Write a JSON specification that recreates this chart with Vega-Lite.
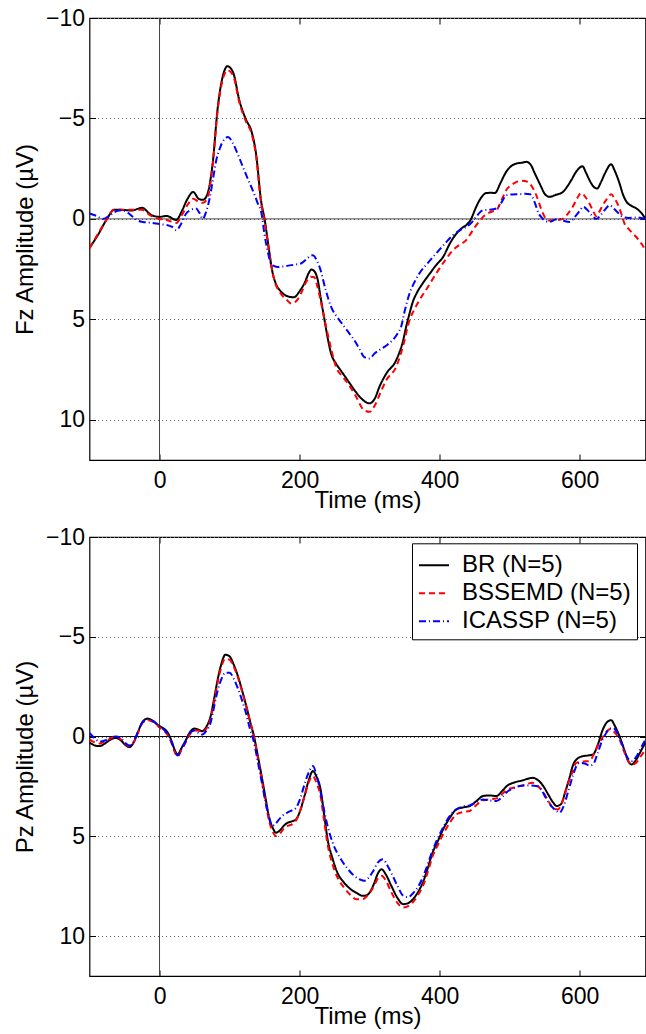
{
"$schema": "https://vega.github.io/schema/vega-lite/v6.json",
"padding": {"left": 12.5, "top": 6, "right": 0, "bottom": 0},
"background": "white",
"config": {
  "font": "Liberation Sans",
  "view": {"stroke": "black", "strokeWidth": 1.2}
},
"datasets": {
"fz": [
{"t":-100,"v":1.45,"s":"BR"},{"t":-88,"v":0.8,"s":"BR"},{"t":-75,"v":0.0,"s":"BR"},{"t":-65,"v":-0.45,"s":"BR"},{"t":-55,"v":-0.45,"s":"BR"},{"t":-40,"v":-0.42,"s":"BR"},{"t":-25,"v":-0.55,"s":"BR"},{"t":-12,"v":-0.2,"s":"BR"},{"t":0,"v":-0.1,"s":"BR"},{"t":10,"v":-0.15,"s":"BR"},{"t":24,"v":0.05,"s":"BR"},{"t":32,"v":-0.4,"s":"BR"},{"t":40,"v":-1.0,"s":"BR"},{"t":48,"v":-1.34,"s":"BR"},{"t":56,"v":-1.0,"s":"BR"},{"t":62,"v":-0.95,"s":"BR"},{"t":68,"v":-1.2,"s":"BR"},{"t":76,"v":-2.8,"s":"BR"},{"t":83,"v":-5.5,"s":"BR"},{"t":90,"v":-7.05,"s":"BR"},{"t":97,"v":-7.6,"s":"BR"},{"t":105,"v":-7.3,"s":"BR"},{"t":114,"v":-5.9,"s":"BR"},{"t":124,"v":-4.9,"s":"BR"},{"t":131,"v":-4.4,"s":"BR"},{"t":138,"v":-3.2,"s":"BR"},{"t":145,"v":-0.9,"s":"BR"},{"t":150,"v":0.0,"s":"BR"},{"t":155,"v":1.2,"s":"BR"},{"t":161,"v":2.6,"s":"BR"},{"t":167,"v":3.3,"s":"BR"},{"t":173,"v":3.6,"s":"BR"},{"t":183,"v":3.85,"s":"BR"},{"t":192,"v":3.9,"s":"BR"},{"t":200,"v":3.6,"s":"BR"},{"t":207,"v":3.2,"s":"BR"},{"t":213,"v":2.7,"s":"BR"},{"t":217,"v":2.52,"s":"BR"},{"t":221,"v":2.6,"s":"BR"},{"t":226,"v":3.05,"s":"BR"},{"t":230,"v":3.9,"s":"BR"},{"t":235,"v":4.9,"s":"BR"},{"t":240,"v":5.9,"s":"BR"},{"t":245,"v":6.7,"s":"BR"},{"t":252,"v":7.2,"s":"BR"},{"t":259,"v":7.55,"s":"BR"},{"t":270,"v":8.1,"s":"BR"},{"t":280,"v":8.6,"s":"BR"},{"t":290,"v":9.0,"s":"BR"},{"t":300,"v":9.18,"s":"BR"},{"t":308,"v":8.9,"s":"BR"},{"t":314,"v":8.36,"s":"BR"},{"t":324,"v":7.69,"s":"BR"},{"t":338,"v":7.03,"s":"BR"},{"t":348,"v":6.03,"s":"BR"},{"t":352,"v":5.4,"s":"BR"},{"t":357,"v":4.71,"s":"BR"},{"t":362,"v":4.1,"s":"BR"},{"t":367,"v":3.71,"s":"BR"},{"t":376,"v":3.2,"s":"BR"},{"t":386,"v":2.72,"s":"BR"},{"t":395,"v":2.3,"s":"BR"},{"t":405,"v":1.89,"s":"BR"},{"t":415,"v":1.2,"s":"BR"},{"t":424,"v":0.73,"s":"BR"},{"t":432,"v":0.45,"s":"BR"},{"t":438,"v":0.31,"s":"BR"},{"t":445,"v":0.0,"s":"BR"},{"t":451,"v":-0.5,"s":"BR"},{"t":457,"v":-0.93,"s":"BR"},{"t":467,"v":-1.29,"s":"BR"},{"t":474,"v":-1.3,"s":"BR"},{"t":479,"v":-1.29,"s":"BR"},{"t":487,"v":-1.8,"s":"BR"},{"t":495,"v":-2.34,"s":"BR"},{"t":503,"v":-2.65,"s":"BR"},{"t":510,"v":-2.76,"s":"BR"},{"t":518,"v":-2.8,"s":"BR"},{"t":524,"v":-2.84,"s":"BR"},{"t":530,"v":-2.7,"s":"BR"},{"t":536,"v":-2.26,"s":"BR"},{"t":545,"v":-1.6,"s":"BR"},{"t":550,"v":-1.25,"s":"BR"},{"t":557,"v":-1.1,"s":"BR"},{"t":566,"v":-1.2,"s":"BR"},{"t":576,"v":-1.34,"s":"BR"},{"t":582,"v":-1.6,"s":"BR"},{"t":588,"v":-1.93,"s":"BR"},{"t":596,"v":-2.4,"s":"BR"},{"t":604,"v":-2.62,"s":"BR"},{"t":609,"v":-2.3,"s":"BR"},{"t":614,"v":-1.93,"s":"BR"},{"t":620,"v":-1.6,"s":"BR"},{"t":625,"v":-1.51,"s":"BR"},{"t":630,"v":-1.8,"s":"BR"},{"t":636,"v":-2.26,"s":"BR"},{"t":645,"v":-2.72,"s":"BR"},{"t":650,"v":-2.4,"s":"BR"},{"t":657,"v":-1.76,"s":"BR"},{"t":662,"v":-1.2,"s":"BR"},{"t":667,"v":-0.85,"s":"BR"},{"t":674,"v":-0.65,"s":"BR"},{"t":681,"v":-0.52,"s":"BR"},{"t":688,"v":-0.3,"s":"BR"},{"t":694,"v":0.0,"s":"BR"},
{"t":-100,"v":1.45,"s":"BSSEMD"},{"t":-88,"v":0.75,"s":"BSSEMD"},{"t":-75,"v":0.0,"s":"BSSEMD"},{"t":-65,"v":-0.45,"s":"BSSEMD"},{"t":-55,"v":-0.45,"s":"BSSEMD"},{"t":-40,"v":-0.45,"s":"BSSEMD"},{"t":-25,"v":-0.45,"s":"BSSEMD"},{"t":-12,"v":-0.15,"s":"BSSEMD"},{"t":0,"v":0.0,"s":"BSSEMD"},{"t":10,"v":0.05,"s":"BSSEMD"},{"t":24,"v":0.2,"s":"BSSEMD"},{"t":32,"v":-0.2,"s":"BSSEMD"},{"t":40,"v":-0.7,"s":"BSSEMD"},{"t":48,"v":-1.0,"s":"BSSEMD"},{"t":56,"v":-0.85,"s":"BSSEMD"},{"t":62,"v":-0.8,"s":"BSSEMD"},{"t":68,"v":-1.0,"s":"BSSEMD"},{"t":76,"v":-2.7,"s":"BSSEMD"},{"t":83,"v":-5.4,"s":"BSSEMD"},{"t":90,"v":-6.9,"s":"BSSEMD"},{"t":97,"v":-7.4,"s":"BSSEMD"},{"t":105,"v":-7.15,"s":"BSSEMD"},{"t":114,"v":-5.8,"s":"BSSEMD"},{"t":124,"v":-4.8,"s":"BSSEMD"},{"t":131,"v":-4.3,"s":"BSSEMD"},{"t":138,"v":-3.1,"s":"BSSEMD"},{"t":145,"v":-0.8,"s":"BSSEMD"},{"t":150,"v":0.1,"s":"BSSEMD"},{"t":155,"v":1.3,"s":"BSSEMD"},{"t":164,"v":3.05,"s":"BSSEMD"},{"t":173,"v":3.71,"s":"BSSEMD"},{"t":181,"v":4.0,"s":"BSSEMD"},{"t":188,"v":4.21,"s":"BSSEMD"},{"t":195,"v":4.1,"s":"BSSEMD"},{"t":202,"v":3.71,"s":"BSSEMD"},{"t":210,"v":3.1,"s":"BSSEMD"},{"t":216,"v":2.88,"s":"BSSEMD"},{"t":221,"v":2.9,"s":"BSSEMD"},{"t":225,"v":3.3,"s":"BSSEMD"},{"t":230,"v":4.05,"s":"BSSEMD"},{"t":235,"v":4.9,"s":"BSSEMD"},{"t":240,"v":5.7,"s":"BSSEMD"},{"t":246,"v":6.6,"s":"BSSEMD"},{"t":252,"v":7.36,"s":"BSSEMD"},{"t":260,"v":7.8,"s":"BSSEMD"},{"t":269,"v":8.19,"s":"BSSEMD"},{"t":280,"v":8.8,"s":"BSSEMD"},{"t":292,"v":9.52,"s":"BSSEMD"},{"t":300,"v":9.6,"s":"BSSEMD"},{"t":308,"v":9.25,"s":"BSSEMD"},{"t":316,"v":8.6,"s":"BSSEMD"},{"t":324,"v":8.02,"s":"BSSEMD"},{"t":338,"v":7.36,"s":"BSSEMD"},{"t":348,"v":6.3,"s":"BSSEMD"},{"t":357,"v":5.04,"s":"BSSEMD"},{"t":364,"v":4.5,"s":"BSSEMD"},{"t":371,"v":4.05,"s":"BSSEMD"},{"t":383,"v":3.4,"s":"BSSEMD"},{"t":395,"v":2.72,"s":"BSSEMD"},{"t":407,"v":2.1,"s":"BSSEMD"},{"t":419,"v":1.56,"s":"BSSEMD"},{"t":430,"v":1.25,"s":"BSSEMD"},{"t":438,"v":1.06,"s":"BSSEMD"},{"t":444,"v":0.75,"s":"BSSEMD"},{"t":450,"v":0.43,"s":"BSSEMD"},{"t":456,"v":0.15,"s":"BSSEMD"},{"t":462,"v":-0.1,"s":"BSSEMD"},{"t":470,"v":-0.3,"s":"BSSEMD"},{"t":476,"v":-0.38,"s":"BSSEMD"},{"t":481,"v":-0.43,"s":"BSSEMD"},{"t":488,"v":-0.9,"s":"BSSEMD"},{"t":495,"v":-1.43,"s":"BSSEMD"},{"t":503,"v":-1.7,"s":"BSSEMD"},{"t":510,"v":-1.84,"s":"BSSEMD"},{"t":518,"v":-1.9,"s":"BSSEMD"},{"t":526,"v":-1.84,"s":"BSSEMD"},{"t":532,"v":-1.6,"s":"BSSEMD"},{"t":538,"v":-1.18,"s":"BSSEMD"},{"t":545,"v":-0.5,"s":"BSSEMD"},{"t":552,"v":0.0,"s":"BSSEMD"},{"t":557,"v":0.08,"s":"BSSEMD"},{"t":562,"v":0.07,"s":"BSSEMD"},{"t":570,"v":0.05,"s":"BSSEMD"},{"t":576,"v":0.0,"s":"BSSEMD"},{"t":583,"v":-0.25,"s":"BSSEMD"},{"t":590,"v":-0.6,"s":"BSSEMD"},{"t":596,"v":-1.0,"s":"BSSEMD"},{"t":602,"v":-1.29,"s":"BSSEMD"},{"t":608,"v":-1.1,"s":"BSSEMD"},{"t":614,"v":-0.77,"s":"BSSEMD"},{"t":619,"v":-0.4,"s":"BSSEMD"},{"t":624,"v":-0.13,"s":"BSSEMD"},{"t":628,"v":-0.35,"s":"BSSEMD"},{"t":633,"v":-0.68,"s":"BSSEMD"},{"t":639,"v":-1.0,"s":"BSSEMD"},{"t":645,"v":-1.23,"s":"BSSEMD"},{"t":650,"v":-1.0,"s":"BSSEMD"},{"t":655,"v":-0.68,"s":"BSSEMD"},{"t":660,"v":-0.2,"s":"BSSEMD"},{"t":664,"v":0.23,"s":"BSSEMD"},{"t":670,"v":0.5,"s":"BSSEMD"},{"t":676,"v":0.73,"s":"BSSEMD"},{"t":682,"v":0.95,"s":"BSSEMD"},{"t":688,"v":1.22,"s":"BSSEMD"},{"t":694,"v":1.56,"s":"BSSEMD"},
{"t":-100,"v":-0.27,"s":"ICASSP"},{"t":-90,"v":-0.15,"s":"ICASSP"},{"t":-81,"v":0.0,"s":"ICASSP"},{"t":-70,"v":-0.2,"s":"ICASSP"},{"t":-60,"v":-0.4,"s":"ICASSP"},{"t":-53,"v":-0.43,"s":"ICASSP"},{"t":-45,"v":-0.3,"s":"ICASSP"},{"t":-38,"v":-0.1,"s":"ICASSP"},{"t":-30,"v":0.1,"s":"ICASSP"},{"t":-24,"v":0.15,"s":"ICASSP"},{"t":-10,"v":0.2,"s":"ICASSP"},{"t":0,"v":0.26,"s":"ICASSP"},{"t":10,"v":0.3,"s":"ICASSP"},{"t":18,"v":0.4,"s":"ICASSP"},{"t":24,"v":0.56,"s":"ICASSP"},{"t":30,"v":0.3,"s":"ICASSP"},{"t":38,"v":-0.27,"s":"ICASSP"},{"t":45,"v":-0.45,"s":"ICASSP"},{"t":52,"v":-0.52,"s":"ICASSP"},{"t":57,"v":-0.3,"s":"ICASSP"},{"t":62,"v":0.0,"s":"ICASSP"},{"t":66,"v":-0.3,"s":"ICASSP"},{"t":71,"v":-0.93,"s":"ICASSP"},{"t":76,"v":-1.9,"s":"ICASSP"},{"t":81,"v":-2.92,"s":"ICASSP"},{"t":86,"v":-3.5,"s":"ICASSP"},{"t":90,"v":-3.83,"s":"ICASSP"},{"t":98,"v":-4.08,"s":"ICASSP"},{"t":105,"v":-3.75,"s":"ICASSP"},{"t":112,"v":-3.2,"s":"ICASSP"},{"t":119,"v":-2.59,"s":"ICASSP"},{"t":126,"v":-2.0,"s":"ICASSP"},{"t":133,"v":-1.43,"s":"ICASSP"},{"t":140,"v":-0.8,"s":"ICASSP"},{"t":146,"v":-0.2,"s":"ICASSP"},{"t":150,"v":0.8,"s":"ICASSP"},{"t":155,"v":1.7,"s":"ICASSP"},{"t":159,"v":2.22,"s":"ICASSP"},{"t":164,"v":2.35,"s":"ICASSP"},{"t":169,"v":2.39,"s":"ICASSP"},{"t":180,"v":2.35,"s":"ICASSP"},{"t":188,"v":2.3,"s":"ICASSP"},{"t":195,"v":2.27,"s":"ICASSP"},{"t":202,"v":2.22,"s":"ICASSP"},{"t":210,"v":2.0,"s":"ICASSP"},{"t":215,"v":1.85,"s":"ICASSP"},{"t":219,"v":1.81,"s":"ICASSP"},{"t":225,"v":2.1,"s":"ICASSP"},{"t":230,"v":2.55,"s":"ICASSP"},{"t":237,"v":3.5,"s":"ICASSP"},{"t":245,"v":4.38,"s":"ICASSP"},{"t":254,"v":4.9,"s":"ICASSP"},{"t":264,"v":5.37,"s":"ICASSP"},{"t":271,"v":5.7,"s":"ICASSP"},{"t":278,"v":6.03,"s":"ICASSP"},{"t":286,"v":6.5,"s":"ICASSP"},{"t":292,"v":6.87,"s":"ICASSP"},{"t":300,"v":6.95,"s":"ICASSP"},{"t":307,"v":6.7,"s":"ICASSP"},{"t":314,"v":6.53,"s":"ICASSP"},{"t":324,"v":6.3,"s":"ICASSP"},{"t":333,"v":6.03,"s":"ICASSP"},{"t":340,"v":5.7,"s":"ICASSP"},{"t":345,"v":5.37,"s":"ICASSP"},{"t":350,"v":4.6,"s":"ICASSP"},{"t":357,"v":3.71,"s":"ICASSP"},{"t":364,"v":3.15,"s":"ICASSP"},{"t":371,"v":2.72,"s":"ICASSP"},{"t":383,"v":2.2,"s":"ICASSP"},{"t":395,"v":1.72,"s":"ICASSP"},{"t":407,"v":1.25,"s":"ICASSP"},{"t":419,"v":0.81,"s":"ICASSP"},{"t":430,"v":0.55,"s":"ICASSP"},{"t":438,"v":0.4,"s":"ICASSP"},{"t":445,"v":0.2,"s":"ICASSP"},{"t":452,"v":-0.1,"s":"ICASSP"},{"t":462,"v":-0.43,"s":"ICASSP"},{"t":470,"v":-0.45,"s":"ICASSP"},{"t":481,"v":-0.52,"s":"ICASSP"},{"t":488,"v":-0.8,"s":"ICASSP"},{"t":495,"v":-1.18,"s":"ICASSP"},{"t":504,"v":-1.22,"s":"ICASSP"},{"t":514,"v":-1.23,"s":"ICASSP"},{"t":522,"v":-1.25,"s":"ICASSP"},{"t":529,"v":-1.23,"s":"ICASSP"},{"t":536,"v":-0.8,"s":"ICASSP"},{"t":541,"v":-0.3,"s":"ICASSP"},{"t":545,"v":-0.1,"s":"ICASSP"},{"t":551,"v":0.1,"s":"ICASSP"},{"t":557,"v":0.15,"s":"ICASSP"},{"t":564,"v":0.05,"s":"ICASSP"},{"t":571,"v":0.0,"s":"ICASSP"},{"t":578,"v":0.1,"s":"ICASSP"},{"t":586,"v":0.15,"s":"ICASSP"},{"t":593,"v":-0.1,"s":"ICASSP"},{"t":600,"v":-0.4,"s":"ICASSP"},{"t":605,"v":-0.6,"s":"ICASSP"},{"t":611,"v":-0.45,"s":"ICASSP"},{"t":618,"v":-0.15,"s":"ICASSP"},{"t":624,"v":0.0,"s":"ICASSP"},{"t":630,"v":-0.2,"s":"ICASSP"},{"t":636,"v":-0.45,"s":"ICASSP"},{"t":643,"v":-0.68,"s":"ICASSP"},{"t":649,"v":-0.5,"s":"ICASSP"},{"t":655,"v":-0.3,"s":"ICASSP"},{"t":662,"v":-0.1,"s":"ICASSP"},{"t":670,"v":-0.05,"s":"ICASSP"},{"t":681,"v":-0.07,"s":"ICASSP"},{"t":694,"v":0.0,"s":"ICASSP"}
],
"pz": [
{"t":-100,"v":0.3,"s":"BR"},{"t":-92,"v":0.45,"s":"BR"},{"t":-86,"v":0.48,"s":"BR"},{"t":-78,"v":0.35,"s":"BR"},{"t":-70,"v":0.15,"s":"BR"},{"t":-62,"v":0.07,"s":"BR"},{"t":-55,"v":0.2,"s":"BR"},{"t":-48,"v":0.45,"s":"BR"},{"t":-43,"v":0.53,"s":"BR"},{"t":-37,"v":0.3,"s":"BR"},{"t":-30,"v":-0.3,"s":"BR"},{"t":-24,"v":-0.75,"s":"BR"},{"t":-17,"v":-0.9,"s":"BR"},{"t":-10,"v":-0.8,"s":"BR"},{"t":-3,"v":-0.6,"s":"BR"},{"t":0,"v":-0.52,"s":"BR"},{"t":6,"v":-0.4,"s":"BR"},{"t":12,"v":-0.18,"s":"BR"},{"t":18,"v":0.3,"s":"BR"},{"t":22,"v":0.7,"s":"BR"},{"t":26,"v":0.9,"s":"BR"},{"t":31,"v":0.6,"s":"BR"},{"t":38,"v":0.15,"s":"BR"},{"t":44,"v":-0.25,"s":"BR"},{"t":50,"v":-0.4,"s":"BR"},{"t":55,"v":-0.35,"s":"BR"},{"t":61,"v":-0.27,"s":"BR"},{"t":67,"v":-0.5,"s":"BR"},{"t":73,"v":-1.02,"s":"BR"},{"t":78,"v":-1.9,"s":"BR"},{"t":83,"v":-2.85,"s":"BR"},{"t":88,"v":-3.6,"s":"BR"},{"t":94,"v":-4.1,"s":"BR"},{"t":100,"v":-4.02,"s":"BR"},{"t":106,"v":-3.6,"s":"BR"},{"t":112,"v":-3.02,"s":"BR"},{"t":118,"v":-2.3,"s":"BR"},{"t":124,"v":-1.52,"s":"BR"},{"t":129,"v":-0.8,"s":"BR"},{"t":135,"v":0.0,"s":"BR"},{"t":140,"v":0.9,"s":"BR"},{"t":145,"v":1.82,"s":"BR"},{"t":151,"v":3.0,"s":"BR"},{"t":157,"v":4.15,"s":"BR"},{"t":162,"v":4.6,"s":"BR"},{"t":166,"v":4.82,"s":"BR"},{"t":172,"v":4.7,"s":"BR"},{"t":178,"v":4.45,"s":"BR"},{"t":183,"v":4.32,"s":"BR"},{"t":189,"v":4.25,"s":"BR"},{"t":195,"v":4.15,"s":"BR"},{"t":201,"v":3.7,"s":"BR"},{"t":207,"v":2.98,"s":"BR"},{"t":213,"v":2.2,"s":"BR"},{"t":219,"v":1.73,"s":"BR"},{"t":224,"v":2.0,"s":"BR"},{"t":230,"v":2.65,"s":"BR"},{"t":235,"v":3.9,"s":"BR"},{"t":240,"v":5.15,"s":"BR"},{"t":247,"v":6.1,"s":"BR"},{"t":254,"v":6.82,"s":"BR"},{"t":263,"v":7.3,"s":"BR"},{"t":273,"v":7.65,"s":"BR"},{"t":282,"v":7.85,"s":"BR"},{"t":290,"v":7.98,"s":"BR"},{"t":296,"v":7.95,"s":"BR"},{"t":300,"v":7.82,"s":"BR"},{"t":306,"v":7.4,"s":"BR"},{"t":312,"v":6.85,"s":"BR"},{"t":317,"v":6.65,"s":"BR"},{"t":323,"v":6.9,"s":"BR"},{"t":331,"v":7.48,"s":"BR"},{"t":340,"v":8.1,"s":"BR"},{"t":348,"v":8.4,"s":"BR"},{"t":355,"v":8.35,"s":"BR"},{"t":362,"v":8.15,"s":"BR"},{"t":369,"v":7.8,"s":"BR"},{"t":376,"v":7.32,"s":"BR"},{"t":383,"v":6.6,"s":"BR"},{"t":390,"v":5.82,"s":"BR"},{"t":398,"v":5.2,"s":"BR"},{"t":405,"v":4.65,"s":"BR"},{"t":414,"v":4.1,"s":"BR"},{"t":424,"v":3.65,"s":"BR"},{"t":434,"v":3.55,"s":"BR"},{"t":443,"v":3.48,"s":"BR"},{"t":452,"v":3.25,"s":"BR"},{"t":462,"v":2.98,"s":"BR"},{"t":471,"v":2.95,"s":"BR"},{"t":481,"v":2.98,"s":"BR"},{"t":490,"v":2.7,"s":"BR"},{"t":497,"v":2.45,"s":"BR"},{"t":505,"v":2.32,"s":"BR"},{"t":518,"v":2.2,"s":"BR"},{"t":533,"v":2.07,"s":"BR"},{"t":541,"v":2.2,"s":"BR"},{"t":548,"v":2.48,"s":"BR"},{"t":555,"v":2.9,"s":"BR"},{"t":562,"v":3.3,"s":"BR"},{"t":567,"v":3.48,"s":"BR"},{"t":573,"v":3.4,"s":"BR"},{"t":580,"v":2.7,"s":"BR"},{"t":586,"v":2.0,"s":"BR"},{"t":590,"v":1.48,"s":"BR"},{"t":597,"v":1.1,"s":"BR"},{"t":605,"v":0.98,"s":"BR"},{"t":612,"v":0.95,"s":"BR"},{"t":619,"v":0.9,"s":"BR"},{"t":626,"v":0.4,"s":"BR"},{"t":633,"v":-0.35,"s":"BR"},{"t":640,"v":-0.75,"s":"BR"},{"t":645,"v":-0.82,"s":"BR"},{"t":650,"v":-0.55,"s":"BR"},{"t":657,"v":0.0,"s":"BR"},{"t":664,"v":0.7,"s":"BR"},{"t":669,"v":1.2,"s":"BR"},{"t":674,"v":1.4,"s":"BR"},{"t":680,"v":1.2,"s":"BR"},{"t":686,"v":0.82,"s":"BR"},{"t":690,"v":0.55,"s":"BR"},{"t":694,"v":0.32,"s":"BR"},
{"t":-100,"v":0.15,"s":"BSSEMD"},{"t":-92,"v":0.3,"s":"BSSEMD"},{"t":-86,"v":0.35,"s":"BSSEMD"},{"t":-78,"v":0.25,"s":"BSSEMD"},{"t":-70,"v":0.1,"s":"BSSEMD"},{"t":-62,"v":0.0,"s":"BSSEMD"},{"t":-55,"v":0.15,"s":"BSSEMD"},{"t":-48,"v":0.4,"s":"BSSEMD"},{"t":-43,"v":0.5,"s":"BSSEMD"},{"t":-37,"v":0.3,"s":"BSSEMD"},{"t":-30,"v":-0.25,"s":"BSSEMD"},{"t":-24,"v":-0.7,"s":"BSSEMD"},{"t":-17,"v":-0.82,"s":"BSSEMD"},{"t":-10,"v":-0.75,"s":"BSSEMD"},{"t":-3,"v":-0.55,"s":"BSSEMD"},{"t":0,"v":-0.45,"s":"BSSEMD"},{"t":6,"v":-0.3,"s":"BSSEMD"},{"t":12,"v":-0.05,"s":"BSSEMD"},{"t":18,"v":0.4,"s":"BSSEMD"},{"t":22,"v":0.8,"s":"BSSEMD"},{"t":26,"v":1.0,"s":"BSSEMD"},{"t":31,"v":0.7,"s":"BSSEMD"},{"t":38,"v":0.25,"s":"BSSEMD"},{"t":44,"v":-0.15,"s":"BSSEMD"},{"t":50,"v":-0.3,"s":"BSSEMD"},{"t":55,"v":-0.3,"s":"BSSEMD"},{"t":61,"v":-0.2,"s":"BSSEMD"},{"t":67,"v":-0.4,"s":"BSSEMD"},{"t":73,"v":-0.9,"s":"BSSEMD"},{"t":78,"v":-1.75,"s":"BSSEMD"},{"t":83,"v":-2.7,"s":"BSSEMD"},{"t":88,"v":-3.45,"s":"BSSEMD"},{"t":94,"v":-3.9,"s":"BSSEMD"},{"t":100,"v":-3.85,"s":"BSSEMD"},{"t":106,"v":-3.5,"s":"BSSEMD"},{"t":112,"v":-2.95,"s":"BSSEMD"},{"t":118,"v":-2.25,"s":"BSSEMD"},{"t":124,"v":-1.5,"s":"BSSEMD"},{"t":129,"v":-0.8,"s":"BSSEMD"},{"t":135,"v":0.05,"s":"BSSEMD"},{"t":140,"v":1.0,"s":"BSSEMD"},{"t":145,"v":1.95,"s":"BSSEMD"},{"t":151,"v":3.2,"s":"BSSEMD"},{"t":157,"v":4.3,"s":"BSSEMD"},{"t":162,"v":4.8,"s":"BSSEMD"},{"t":166,"v":4.98,"s":"BSSEMD"},{"t":172,"v":4.85,"s":"BSSEMD"},{"t":178,"v":4.6,"s":"BSSEMD"},{"t":183,"v":4.48,"s":"BSSEMD"},{"t":189,"v":4.4,"s":"BSSEMD"},{"t":195,"v":4.2,"s":"BSSEMD"},{"t":201,"v":3.7,"s":"BSSEMD"},{"t":207,"v":3.0,"s":"BSSEMD"},{"t":213,"v":2.3,"s":"BSSEMD"},{"t":219,"v":1.98,"s":"BSSEMD"},{"t":224,"v":2.3,"s":"BSSEMD"},{"t":230,"v":3.0,"s":"BSSEMD"},{"t":235,"v":4.2,"s":"BSSEMD"},{"t":240,"v":5.4,"s":"BSSEMD"},{"t":247,"v":6.4,"s":"BSSEMD"},{"t":254,"v":7.05,"s":"BSSEMD"},{"t":263,"v":7.55,"s":"BSSEMD"},{"t":273,"v":7.95,"s":"BSSEMD"},{"t":281,"v":8.15,"s":"BSSEMD"},{"t":290,"v":8.15,"s":"BSSEMD"},{"t":296,"v":8.0,"s":"BSSEMD"},{"t":300,"v":7.85,"s":"BSSEMD"},{"t":306,"v":7.5,"s":"BSSEMD"},{"t":312,"v":7.1,"s":"BSSEMD"},{"t":317,"v":6.98,"s":"BSSEMD"},{"t":323,"v":7.2,"s":"BSSEMD"},{"t":331,"v":7.8,"s":"BSSEMD"},{"t":340,"v":8.35,"s":"BSSEMD"},{"t":348,"v":8.57,"s":"BSSEMD"},{"t":355,"v":8.5,"s":"BSSEMD"},{"t":362,"v":8.3,"s":"BSSEMD"},{"t":369,"v":7.95,"s":"BSSEMD"},{"t":376,"v":7.5,"s":"BSSEMD"},{"t":383,"v":6.8,"s":"BSSEMD"},{"t":390,"v":6.0,"s":"BSSEMD"},{"t":398,"v":5.4,"s":"BSSEMD"},{"t":405,"v":4.9,"s":"BSSEMD"},{"t":414,"v":4.35,"s":"BSSEMD"},{"t":424,"v":3.9,"s":"BSSEMD"},{"t":434,"v":3.78,"s":"BSSEMD"},{"t":443,"v":3.73,"s":"BSSEMD"},{"t":452,"v":3.45,"s":"BSSEMD"},{"t":462,"v":3.2,"s":"BSSEMD"},{"t":471,"v":3.15,"s":"BSSEMD"},{"t":481,"v":3.1,"s":"BSSEMD"},{"t":490,"v":2.85,"s":"BSSEMD"},{"t":497,"v":2.65,"s":"BSSEMD"},{"t":505,"v":2.57,"s":"BSSEMD"},{"t":518,"v":2.45,"s":"BSSEMD"},{"t":533,"v":2.32,"s":"BSSEMD"},{"t":541,"v":2.5,"s":"BSSEMD"},{"t":548,"v":2.8,"s":"BSSEMD"},{"t":555,"v":3.2,"s":"BSSEMD"},{"t":562,"v":3.6,"s":"BSSEMD"},{"t":569,"v":3.65,"s":"BSSEMD"},{"t":576,"v":3.2,"s":"BSSEMD"},{"t":583,"v":2.4,"s":"BSSEMD"},{"t":590,"v":1.75,"s":"BSSEMD"},{"t":595,"v":1.32,"s":"BSSEMD"},{"t":605,"v":1.25,"s":"BSSEMD"},{"t":614,"v":1.23,"s":"BSSEMD"},{"t":620,"v":0.9,"s":"BSSEMD"},{"t":626,"v":0.45,"s":"BSSEMD"},{"t":631,"v":0.15,"s":"BSSEMD"},{"t":637,"v":-0.2,"s":"BSSEMD"},{"t":644,"v":-0.38,"s":"BSSEMD"},{"t":650,"v":-0.2,"s":"BSSEMD"},{"t":657,"v":0.15,"s":"BSSEMD"},{"t":664,"v":0.8,"s":"BSSEMD"},{"t":669,"v":1.2,"s":"BSSEMD"},{"t":675,"v":1.4,"s":"BSSEMD"},{"t":681,"v":1.3,"s":"BSSEMD"},{"t":687,"v":1.0,"s":"BSSEMD"},{"t":694,"v":0.65,"s":"BSSEMD"},
{"t":-100,"v":-0.18,"s":"ICASSP"},{"t":-92,"v":0.1,"s":"ICASSP"},{"t":-86,"v":0.25,"s":"ICASSP"},{"t":-78,"v":0.2,"s":"ICASSP"},{"t":-70,"v":0.05,"s":"ICASSP"},{"t":-62,"v":0.0,"s":"ICASSP"},{"t":-55,"v":0.1,"s":"ICASSP"},{"t":-48,"v":0.35,"s":"ICASSP"},{"t":-43,"v":0.45,"s":"ICASSP"},{"t":-37,"v":0.25,"s":"ICASSP"},{"t":-30,"v":-0.3,"s":"ICASSP"},{"t":-24,"v":-0.72,"s":"ICASSP"},{"t":-17,"v":-0.85,"s":"ICASSP"},{"t":-10,"v":-0.78,"s":"ICASSP"},{"t":-3,"v":-0.6,"s":"ICASSP"},{"t":0,"v":-0.5,"s":"ICASSP"},{"t":6,"v":-0.35,"s":"ICASSP"},{"t":12,"v":-0.1,"s":"ICASSP"},{"t":18,"v":0.35,"s":"ICASSP"},{"t":22,"v":0.75,"s":"ICASSP"},{"t":26,"v":0.95,"s":"ICASSP"},{"t":31,"v":0.65,"s":"ICASSP"},{"t":38,"v":0.2,"s":"ICASSP"},{"t":44,"v":-0.2,"s":"ICASSP"},{"t":50,"v":-0.3,"s":"ICASSP"},{"t":55,"v":-0.2,"s":"ICASSP"},{"t":61,"v":-0.1,"s":"ICASSP"},{"t":67,"v":-0.3,"s":"ICASSP"},{"t":73,"v":-0.7,"s":"ICASSP"},{"t":78,"v":-1.5,"s":"ICASSP"},{"t":83,"v":-2.3,"s":"ICASSP"},{"t":88,"v":-2.85,"s":"ICASSP"},{"t":94,"v":-3.2,"s":"ICASSP"},{"t":100,"v":-3.2,"s":"ICASSP"},{"t":106,"v":-2.9,"s":"ICASSP"},{"t":112,"v":-2.4,"s":"ICASSP"},{"t":118,"v":-1.8,"s":"ICASSP"},{"t":124,"v":-1.1,"s":"ICASSP"},{"t":129,"v":-0.4,"s":"ICASSP"},{"t":135,"v":0.3,"s":"ICASSP"},{"t":140,"v":1.2,"s":"ICASSP"},{"t":145,"v":2.1,"s":"ICASSP"},{"t":151,"v":3.2,"s":"ICASSP"},{"t":157,"v":4.1,"s":"ICASSP"},{"t":161,"v":4.48,"s":"ICASSP"},{"t":166,"v":4.35,"s":"ICASSP"},{"t":172,"v":4.1,"s":"ICASSP"},{"t":178,"v":3.9,"s":"ICASSP"},{"t":183,"v":3.8,"s":"ICASSP"},{"t":189,"v":3.7,"s":"ICASSP"},{"t":195,"v":3.57,"s":"ICASSP"},{"t":201,"v":3.1,"s":"ICASSP"},{"t":207,"v":2.4,"s":"ICASSP"},{"t":213,"v":1.8,"s":"ICASSP"},{"t":219,"v":1.48,"s":"ICASSP"},{"t":224,"v":1.9,"s":"ICASSP"},{"t":230,"v":2.8,"s":"ICASSP"},{"t":235,"v":3.7,"s":"ICASSP"},{"t":240,"v":4.48,"s":"ICASSP"},{"t":247,"v":5.3,"s":"ICASSP"},{"t":254,"v":5.85,"s":"ICASSP"},{"t":259,"v":6.15,"s":"ICASSP"},{"t":268,"v":6.6,"s":"ICASSP"},{"t":278,"v":6.98,"s":"ICASSP"},{"t":285,"v":7.15,"s":"ICASSP"},{"t":292,"v":7.23,"s":"ICASSP"},{"t":298,"v":7.1,"s":"ICASSP"},{"t":305,"v":6.75,"s":"ICASSP"},{"t":312,"v":6.3,"s":"ICASSP"},{"t":319,"v":6.15,"s":"ICASSP"},{"t":326,"v":6.5,"s":"ICASSP"},{"t":333,"v":6.98,"s":"ICASSP"},{"t":340,"v":7.5,"s":"ICASSP"},{"t":348,"v":7.98,"s":"ICASSP"},{"t":355,"v":8.05,"s":"ICASSP"},{"t":362,"v":7.85,"s":"ICASSP"},{"t":369,"v":7.55,"s":"ICASSP"},{"t":376,"v":7.05,"s":"ICASSP"},{"t":383,"v":6.4,"s":"ICASSP"},{"t":390,"v":5.7,"s":"ICASSP"},{"t":398,"v":5.05,"s":"ICASSP"},{"t":405,"v":4.55,"s":"ICASSP"},{"t":414,"v":4.0,"s":"ICASSP"},{"t":424,"v":3.65,"s":"ICASSP"},{"t":434,"v":3.5,"s":"ICASSP"},{"t":443,"v":3.45,"s":"ICASSP"},{"t":452,"v":3.3,"s":"ICASSP"},{"t":462,"v":3.15,"s":"ICASSP"},{"t":471,"v":3.2,"s":"ICASSP"},{"t":481,"v":3.23,"s":"ICASSP"},{"t":490,"v":3.0,"s":"ICASSP"},{"t":497,"v":2.75,"s":"ICASSP"},{"t":505,"v":2.6,"s":"ICASSP"},{"t":514,"v":2.48,"s":"ICASSP"},{"t":526,"v":2.45,"s":"ICASSP"},{"t":538,"v":2.48,"s":"ICASSP"},{"t":545,"v":2.65,"s":"ICASSP"},{"t":552,"v":3.1,"s":"ICASSP"},{"t":560,"v":3.5,"s":"ICASSP"},{"t":567,"v":3.73,"s":"ICASSP"},{"t":571,"v":3.82,"s":"ICASSP"},{"t":577,"v":3.5,"s":"ICASSP"},{"t":584,"v":2.7,"s":"ICASSP"},{"t":590,"v":2.0,"s":"ICASSP"},{"t":595,"v":1.5,"s":"ICASSP"},{"t":600,"v":1.32,"s":"ICASSP"},{"t":607,"v":1.35,"s":"ICASSP"},{"t":614,"v":1.45,"s":"ICASSP"},{"t":619,"v":1.4,"s":"ICASSP"},{"t":626,"v":0.8,"s":"ICASSP"},{"t":632,"v":0.2,"s":"ICASSP"},{"t":638,"v":-0.18,"s":"ICASSP"},{"t":643,"v":-0.4,"s":"ICASSP"},{"t":648,"v":-0.43,"s":"ICASSP"},{"t":654,"v":-0.15,"s":"ICASSP"},{"t":660,"v":0.32,"s":"ICASSP"},{"t":666,"v":0.9,"s":"ICASSP"},{"t":670,"v":1.15,"s":"ICASSP"},{"t":675,"v":1.23,"s":"ICASSP"},{"t":681,"v":1.0,"s":"ICASSP"},{"t":687,"v":0.6,"s":"ICASSP"},{"t":694,"v":0.15,"s":"ICASSP"}
],
"zero": [{"z": 0}]
},
"spacing": 12,
"resolve": {"legend": {"color": "independent", "strokeDash": "independent"}},
"vconcat": [
{
  "width": 556, "height": 442,
  "resolve": {"axis": {"x": "independent", "y": "independent"}},
  "layer": [
    {"data": {"name": "zero"}, "mark": {"type": "rule", "color": "#444", "strokeWidth": 1},
     "encoding": {"y": {"field": "z", "type": "quantitative", "scale": {"domain": [-10, 12], "nice": false, "reverse": true},
       "axis": {"orient": "right", "values": [-10, -5, 0, 5, 10], "labels": false, "title": null, "grid": false, "domain": false, "tickSize": -6, "tickColor": "black"}}}},
    {"data": {"name": "zero"}, "mark": {"type": "rule", "color": "#444", "strokeWidth": 1},
     "encoding": {"x": {"field": "z", "type": "quantitative", "scale": {"domain": [-100, 694], "nice": false},
       "axis": {"orient": "top", "values": [0, 200, 400, 600], "labels": false, "title": null, "grid": false, "domain": false, "tickSize": -6, "tickColor": "black"}}}},
    {"data": {"name": "fz"}, "mark": {"type": "line", "interpolate": "monotone", "strokeWidth": 2, "clip": true},
     "encoding": {
       "x": {"field": "t", "type": "quantitative", "scale": {"domain": [-100, 694], "nice": false},
         "axis": {"title": "Time (ms)", "values": [0, 200, 400, 600], "grid": false, "domain": false, "tickSize": -6, "tickColor": "black", "labelPadding": 15, "labelFontSize": 23, "labelFont": "Liberation Sans", "labelColor": "black", "titleFontSize": 24, "titleFont": "Liberation Sans", "titleFontWeight": "normal", "titleColor": "black", "titlePadding": -4}},
       "y": {"field": "v", "type": "quantitative", "scale": {"domain": [-10, 12], "nice": false, "reverse": true},
         "axis": {"title": "Fz Amplitude (µV)", "values": [-10, -5, 0, 5, 10], "grid": true, "gridDash": [1, 3], "gridColor": "#666", "domain": false, "tickSize": -6, "tickColor": "black", "labelPadding": 11, "labelFontSize": 23, "labelFont": "Liberation Sans", "labelColor": "black", "labelExpr": "replace(datum.label, '-', '−')", "titleFontSize": 24, "titleFont": "Liberation Sans", "titleFontWeight": "normal", "titleColor": "black", "titlePadding": 8}},
       "color": {"field": "s", "type": "nominal", "scale": {"domain": ["BR", "BSSEMD", "ICASSP"], "range": ["#000000", "#ff0000", "#0000ff"]}, "legend": null},
       "strokeDash": {"field": "s", "type": "nominal", "scale": {"domain": ["BR", "BSSEMD", "ICASSP"], "range": [[1, 0], [6, 4], [7, 3, 1, 3]]}, "legend": null}
     }}
  ]
},
{
  "width": 556, "height": 439,
  "resolve": {"axis": {"x": "independent", "y": "independent"}},
  "layer": [
    {"data": {"name": "zero"}, "mark": {"type": "rule", "color": "#000", "strokeWidth": 1},
     "encoding": {"y": {"field": "z", "type": "quantitative", "scale": {"domain": [-10, 12], "nice": false, "reverse": true},
       "axis": {"orient": "right", "values": [-10, -5, 0, 5, 10], "labels": false, "title": null, "grid": false, "domain": false, "tickSize": -6, "tickColor": "black"}}}},
    {"data": {"name": "zero"}, "mark": {"type": "rule", "color": "#444", "strokeWidth": 1},
     "encoding": {"x": {"field": "z", "type": "quantitative", "scale": {"domain": [-100, 694], "nice": false},
       "axis": {"orient": "top", "values": [0, 200, 400, 600], "labels": false, "title": null, "grid": false, "domain": false, "tickSize": -6, "tickColor": "black"}}}},
    {"data": {"name": "pz"}, "mark": {"type": "line", "interpolate": "monotone", "strokeWidth": 2, "clip": true},
     "encoding": {
       "x": {"field": "t", "type": "quantitative", "scale": {"domain": [-100, 694], "nice": false},
         "axis": {"title": "Time (ms)", "values": [0, 200, 400, 600], "grid": false, "domain": false, "tickSize": -6, "tickColor": "black", "labelPadding": 15, "labelFontSize": 23, "labelFont": "Liberation Sans", "labelColor": "black", "titleFontSize": 24, "titleFont": "Liberation Sans", "titleFontWeight": "normal", "titleColor": "black", "titlePadding": -4}},
       "y": {"field": "v", "type": "quantitative", "scale": {"domain": [-10, 12], "nice": false, "reverse": true},
         "axis": {"title": "Pz Amplitude (µV)", "values": [-10, -5, 0, 5, 10], "grid": true, "gridDash": [1, 3], "gridColor": "#666", "domain": false, "tickSize": -6, "tickColor": "black", "labelPadding": 11, "labelFontSize": 23, "labelFont": "Liberation Sans", "labelColor": "black", "labelExpr": "replace(datum.label, '-', '−')", "titleFontSize": 24, "titleFont": "Liberation Sans", "titleFontWeight": "normal", "titleColor": "black", "titlePadding": 8}},
       "color": {"field": "s", "type": "nominal", "scale": {"domain": ["BR", "BSSEMD", "ICASSP"], "range": ["#000000", "#ff0000", "#0000ff"]},
         "legend": {"title": null, "orient": "none", "legendX": 322.5, "legendY": 6.3, "strokeColor": "black", "fillColor": "white", "padding": 6, "labelFontSize": 24, "labelFont": "Liberation Sans", "labelColor": "black", "symbolType": "stroke", "symbolSize": 900, "symbolStrokeWidth": 2, "rowPadding": 0, "labelOffset": 12, "labelLimit": 400, "labelExpr": "datum.label + ' (N=5)'"}},
       "strokeDash": {"field": "s", "type": "nominal", "scale": {"domain": ["BR", "BSSEMD", "ICASSP"], "range": [[1, 0], [6, 4], [7, 3, 1, 3]]},
         "legend": {"title": null, "orient": "none", "legendX": 322.5, "legendY": 6.3, "strokeColor": "black", "fillColor": "white", "padding": 6, "labelFontSize": 24, "labelFont": "Liberation Sans", "labelColor": "black", "symbolType": "stroke", "symbolSize": 900, "symbolStrokeWidth": 2, "rowPadding": 0, "labelOffset": 12, "labelLimit": 400, "labelExpr": "datum.label + ' (N=5)'"}}
     }}
  ]
}
]
}
